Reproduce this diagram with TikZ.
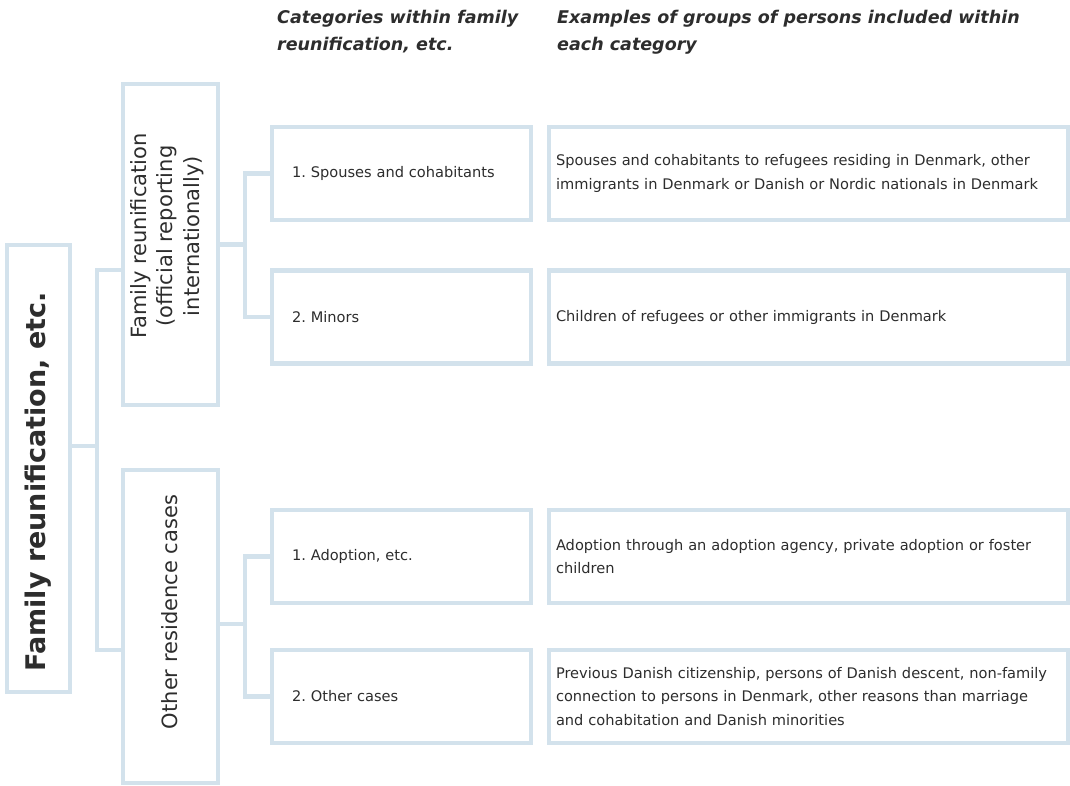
\documentclass[tikz,border=0pt]{standalone}
\usepackage{fontspec}
\setmainfont{DejaVu Sans}
\frenchspacing
\usetikzlibrary{positioning,calc}

\definecolor{boxline}{RGB}{211,226,236}
\definecolor{inktext}{RGB}{45,45,45}

\begin{document}
\begin{tikzpicture}[x=1pt,y=-1pt,
    frame/.style={draw=boxline, line width=4.5pt, fill=white, inner sep=0pt},
    link/.style={draw=boxline, line width=4.5pt},
    sidetext/.style={rotate=90, align=center, text=inktext, inner sep=0pt},
    catbox/.style={frame, minimum width=259, minimum height=93, text width=219,
        inner xsep=20pt, align=left, text=inktext, font=\fontsize{14.6}{24}\selectfont},
    exbox/.style={frame, minimum width=519, minimum height=93, text width=505,
        inner xsep=7pt, align=left, text=inktext, font=\fontsize{14.6}{23.5}\selectfont},
    heading/.style={anchor=north west, align=left, text=inktext, inner sep=0pt,
        font=\fontsize{17.5}{27}\selectfont\bfseries\itshape}]

    % Fix the page size
    \useasboundingbox (0,0) rectangle (1070,786);

    % Column headings
    \node[heading] (headcat) at (277,10) {Categories within family\\reunification, etc.};
    \node[heading] (headex) at (557,10) {Examples of groups of persons included within\\each category};

    % Main box and the two groups
    \node[frame, minimum width=63, minimum height=447] (main) at (38.5,468.5) {};
    \node[frame, minimum width=95, minimum height=321] (fam) at (170.5,244.5) {};
    \node[frame, minimum width=95, minimum height=313] (oth) at (170.5,626.5) {};

    % Labels of the rotated boxes
    \node[sidetext, font=\fontsize{27}{30}\selectfont\bfseries] (maintext) at (main.center |- 0,482) {Family reunification, etc.};
    \node[sidetext, font=\fontsize{21}{26.5}\selectfont] (famtext) at (167,236) {Family reunification\\(official reporting\\internationally)};
    \node[sidetext, font=\fontsize{21}{26.5}\selectfont] (othtext) at (170,612) {Other residence cases};

    % Categories
    \node[catbox] (spouse) at (401.5,173.5) {1. Spouses and cohabitants};
    \node[catbox] (minor) at (401.5,317) {2. Minors};
    \node[catbox] (adopt) at (401.5,556.5) {1. Adoption, etc.};
    \node[catbox] (other) at (401.5,696.5) {2. Other cases};

    % Examples
    \node[exbox] (exspouse) at (808.5,173.5) {Spouses and cohabitants to refugees residing in Denmark, other\\immigrants in Denmark or Danish or Nordic nationals in Denmark};
    \node[exbox] (exminor) at (808.5,317) {Children of refugees or other immigrants in Denmark};
    \node[exbox] (exadopt) at (808.5,556.5) {Adoption through an adoption agency, private adoption or foster\\children};
    \node[exbox] (exother) at (808.5,696.5) {Previous Danish citizenship, persons of Danish descent, non-family\\connection to persons in Denmark, other reasons than marriage\\and cohabitation and Danish minorities};

    % Branch points
    \coordinate (trunk) at (97,446);
    \coordinate (famin) at (97,270);
    \coordinate (othin) at (97,650);
    \coordinate (famfork) at (245,244.5);
    \coordinate (othfork) at (245,624);

    % Connectors from the main box
    \draw[link] (trunk -| main.east) -- (trunk);
    \draw[link] (famin -| fam.west) -- (famin) -- (othin) -- (othin -| oth.west);

    % Connectors to the categories
    \draw[link] (famfork -| fam.east) -- (famfork);
    \draw[link] (spouse.west) -| (famfork) |- (minor.west);
    \draw[link] (othfork -| oth.east) -- (othfork);
    \draw[link] (adopt.west) -| (othfork) |- (other.west);

\end{tikzpicture}
\end{document}
